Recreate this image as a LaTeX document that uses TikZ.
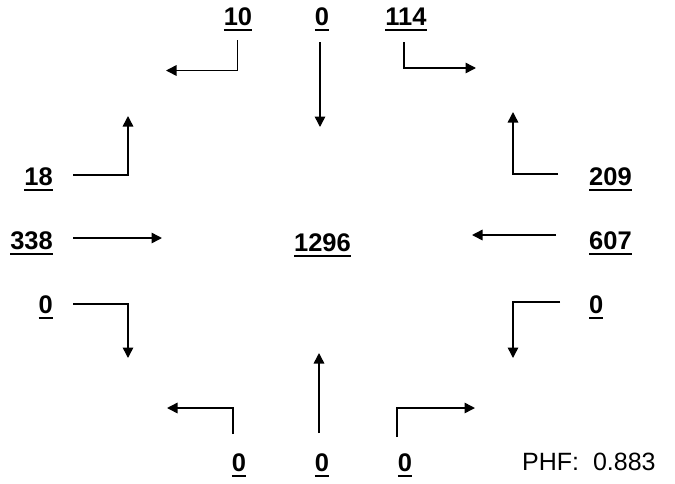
\documentclass[tikz,border=0pt]{standalone}
\usepackage{fontspec}
\setmainfont{Liberation Sans}
\usetikzlibrary{arrows.meta}
\newcommand{\ulnum}[1]{\setbox0\hbox{#1}\rlap{\rule[-6.3pt]{\wd0}{2.8pt}}\box0}
\begin{document}
\begin{tikzpicture}[x=1pt,y=-1pt,
  num/.style={inner sep=0pt,font=\fontsize{25.5}{30}\selectfont\bfseries},
  phf/.style={inner sep=0pt,font=\fontsize{25}{30}\selectfont},
  arr/.style={line width=1.5pt,-{Triangle[length=10.5pt,width=10.5pt]}}]
\useasboundingbox (0,0) rectangle (675,483);
% labels
\node[num,anchor=base] (n10) at (238,25) {\ulnum{10}};
\node[num,anchor=base] (n0t) at (322,25) {\ulnum{0}};
\node[num,anchor=base] (n114) at (406,25) {\ulnum{114}};
\node[num,anchor=base east] (n18) at (53,185) {\ulnum{18}};
\node[num,anchor=base east] (n338) at (53,249) {\ulnum{338}};
\node[num,anchor=base east] (n0l) at (53,313) {\ulnum{0}};
\node[num,anchor=base west] (n209) at (589,185) {\ulnum{209}};
\node[num,anchor=base west] (n607) at (589,249) {\ulnum{607}};
\node[num,anchor=base west] (n0r) at (589,313) {\ulnum{0}};
\node[num,anchor=base] (n1296) at (322.5,251) {\ulnum{1296}};
\node[num,anchor=base] (n0bl) at (239,471) {\ulnum{0}};
\node[num,anchor=base] (n0bc) at (322,471) {\ulnum{0}};
\node[num,anchor=base] (n0br) at (405,471) {\ulnum{0}};
\node[phf,anchor=base west] (phf) at (522,470) {PHF:\ \ 0.883};
% connector end points
\coordinate (tls) at (237.5,40);  \coordinate (tle) at (166,70.5);
\coordinate (tcs) at (320,42);    \coordinate (tce) at (320,127);
\coordinate (trs) at (404,42);    \coordinate (tre) at (476,68);
\coordinate (l1s) at (73,175);    \coordinate (l1e) at (128,116);
\coordinate (l2s) at (73,238);    \coordinate (l2e) at (162,238);
\coordinate (l3s) at (73,304);    \coordinate (l3e) at (128,358);
\coordinate (r1s) at (558,174);   \coordinate (r1e) at (513,112);
\coordinate (r2s) at (556,235);   \coordinate (r2e) at (472,235);
\coordinate (r3s) at (560,302);   \coordinate (r3e) at (513,358);
\coordinate (bls) at (233,434);   \coordinate (ble) at (167,408);
\coordinate (bcs) at (319,433);   \coordinate (bce) at (319,353);
\coordinate (brs) at (397,437);   \coordinate (bre) at (475,408);
% connectors
\draw[arr] (tls) |- (tle);
\draw[arr] (tcs) -- (tce);
\draw[arr] (trs) |- (tre);
\draw[arr] (l1s) -| (l1e);
\draw[arr] (l2s) -- (l2e);
\draw[arr] (l3s) -| (l3e);
\draw[arr] (r1s) -| (r1e);
\draw[arr] (r2s) -- (r2e);
\draw[arr] (r3s) -| (r3e);
\draw[arr] (bls) |- (ble);
\draw[arr] (bcs) -- (bce);
\draw[arr] (brs) |- (bre);
\end{tikzpicture}
\end{document}
